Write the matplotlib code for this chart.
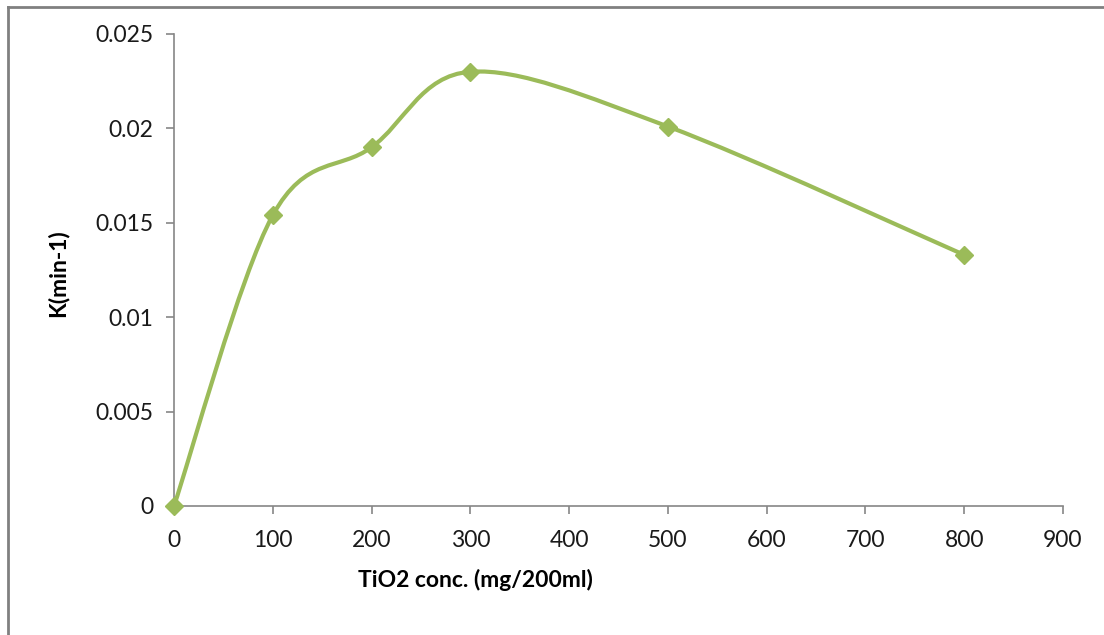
import numpy as np
import matplotlib
matplotlib.use("Agg")
import matplotlib.pyplot as plt
from matplotlib.path import Path
from matplotlib.patches import PathPatch
from matplotlib.lines import Line2D

# data
tio2_conc = [0, 100, 200, 300, 500, 800]
k_rate = [0.0, 0.0154, 0.0190, 0.0230, 0.0201, 0.0133]

x_ticks = [0, 100, 200, 300, 400, 500, 600, 700, 800, 900]
y_ticks = [0, 0.005, 0.01, 0.015, 0.02, 0.025]
y_tick_labels = ["0", "0.005", "0.01", "0.015", "0.02", "0.025"]

green = "#9BBB59"
axis_gray = "#868686"

plt.rcParams["font.family"] = ["Lato", "DejaVu Sans"]


def smooth_path(xs, ys):
    '''bezier path through the points, like the excel smoothed line'''
    pts = np.column_stack([xs, ys]).astype(float)
    n = len(pts)
    verts = [pts[0]]
    codes = [Path.MOVETO]
    for i in range(n - 1):
        p0 = pts[i - 1] if i > 0 else pts[i]
        p1 = pts[i]
        p2 = pts[i + 1]
        p3 = pts[i + 2] if i + 2 < n else pts[i + 1]
        c1 = p1 + (p2 - p0) / 6.0
        c2 = p2 - (p3 - p1) / 6.0
        verts += [c1, c2, p2]
        codes += [Path.CURVE4] * 3
    return Path(verts, codes)


fig = plt.figure(figsize=(11.04, 6.35), dpi=100)
ax = fig.add_axes([174 / 1104, 1 - 506 / 635, (1063 - 174) / 1104, (506 - 34) / 635])

ax.add_patch(PathPatch(smooth_path(tio2_conc, k_rate), facecolor="none",
                       edgecolor=green, lw=3, capstyle="round", zorder=2))
ax.plot(tio2_conc, k_rate, ls="none", marker="D", ms=9.5, color=green, zorder=3, clip_on=False)

ax.set_xlim(0, 900)
ax.set_ylim(0, 0.025)
ax.set_xticks(x_ticks)
ax.set_yticks(y_ticks)
ax.set_yticklabels(y_tick_labels)

for side in ["top", "right"]:
    ax.spines[side].set_visible(False)
for side in ["left", "bottom"]:
    ax.spines[side].set_color(axis_gray)
    ax.spines[side].set_linewidth(1.2)
ax.tick_params(axis="both", direction="out", length=6, width=1.2, color=axis_gray,
               labelsize=16.5, labelcolor="#1a1a1a")
ax.tick_params(axis="x", pad=11)
ax.tick_params(axis="y", pad=9)

ax.set_xlabel("TiO2 conc. (mg/200ml)", fontsize=16.5, fontweight="bold")
ax.xaxis.set_label_coords((475 - 174) / (1063 - 174), -(580 - 506) / (506 - 34))
ax.set_ylabel("K(min-1)", fontsize=16.5, fontweight="bold")
ax.yaxis.set_label_coords(-(174 - 58) / (1063 - 174), (506 - 273) / (506 - 34))
ax.xaxis.label.set_va("center")
ax.yaxis.label.set_va("center")

# outer chart border (left and top edges visible)
fig.add_artist(Line2D([8 / 1104, 8 / 1104], [0, 1 - 7 / 635], color="#808080", lw=2,
                      transform=fig.transFigure))
fig.add_artist(Line2D([8 / 1104, 1], [1 - 7 / 635, 1 - 7 / 635], color="#808080", lw=2,
                      transform=fig.transFigure))

fig.savefig("out.png", dpi=100)
